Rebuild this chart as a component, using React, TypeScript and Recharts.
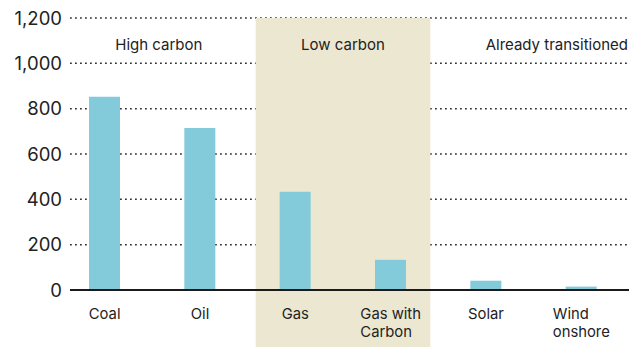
import React from 'react';
import {
  BarChart,
  Bar,
  XAxis,
  YAxis,
  CartesianGrid,
  ReferenceArea,
} from 'recharts';

// Emissions intensity by generation technology
const CATEGORIES = ['Coal', 'Oil', 'Gas', 'Gas with\nCarbon', 'Solar', 'Wind\nonshore'];
const VALUES = [853, 715, 434, 133, 41, 15];
const Y_TICKS = [0, 200, 400, 600, 800, 1000, 1200];

// Technology groups: label, first and last category covered
const GROUP_LABELS = ['High carbon', 'Low carbon', 'Already transitioned'];
const GROUP_FIRST = ['Coal', 'Gas', 'Solar'];
const GROUP_LAST = ['Oil', 'Gas with\nCarbon', 'Wind\nonshore'];

const data = CATEGORIES.map((name, i) => ({ name, value: VALUES[i] }));

const W = 629;
const H = 347;
const Y_AXIS_W = 70;
const FONT = 'Inter, "Noto Sans", sans-serif';
const BAR_COLOR = '#83CADB';
const BAND_COLOR = '#ECE7D1';
const TEXT_COLOR = '#222222';
const BAND_INSET = 8;

const fmt = (v: number) => v.toLocaleString('en-US');

function CategoryTick(props: any) {
  const { x, y, payload } = props;
  const lines = String(payload.value).split('\n');
  return (
    <foreignObject x={x - 60} y={y + 7} width={120} height={46}>
      <div
        style={{
          textAlign: 'center',
          fontFamily: FONT,
          fontSize: 14.8,
          lineHeight: '18px',
          color: TEXT_COLOR,
        }}
      >
        <span style={{ display: 'inline-block', textAlign: 'left' }}>
          {lines.map((l, i) => (
            <React.Fragment key={i}>
              {i > 0 && <br />}
              {l}
            </React.Fragment>
          ))}
        </span>
      </div>
    </foreignObject>
  );
}

function GroupLabel(props: any) {
  const { viewBox, value, align } = props;
  const left = Math.max(viewBox.x, Y_AXIS_W);
  const right = viewBox.x + viewBox.width;
  const x = align === 'end' ? right - 1 : (left + right) / 2;
  return (
    <text
      x={x}
      y={viewBox.y + 32}
      textAnchor={align === 'end' ? 'end' : 'middle'}
      fontFamily={FONT}
      fontSize={15}
      fill={TEXT_COLOR}
    >
      {value}
    </text>
  );
}

const BandShape = (p: any) => (
  <rect
    x={p.x + BAND_INSET}
    y={p.y}
    width={p.width - 2 * BAND_INSET}
    height={H - p.y}
    fill={BAND_COLOR}
  />
);

export default function App() {
  return (
    <div style={{ position: 'absolute', left: 0, top: 0, background: '#fff' }}>
      <BarChart
        width={W}
        height={H}
        data={data}
        margin={{ top: 18, right: 0, bottom: 0, left: 0 }}
        style={{ fontFamily: FONT }}
      >
        {GROUP_LABELS.map((g, i) => (
          <ReferenceArea
            key={g}
            x1={GROUP_FIRST[i]}
            x2={GROUP_LAST[i]}
            ifOverflow="visible"
            fill={i === 1 ? BAND_COLOR : 'none'}
            fillOpacity={i === 1 ? 1 : 0}
            shape={i === 1 ? BandShape : undefined}
            label={<GroupLabel value={g} align={i === 2 ? 'end' : 'middle'} />}
          />
        ))}
        <CartesianGrid
          vertical={false}
          stroke="#333"
          strokeWidth={1.5}
          strokeDasharray="1.8 3.2"
        />
        <XAxis
          dataKey="name"
          interval={0}
          height={57}
          padding={{ left: -13, right: 0 }}
          tickLine={false}
          axisLine={{ stroke: '#1a1a1a', strokeWidth: 2 }}
          tick={<CategoryTick />}
        />
        <YAxis
          width={Y_AXIS_W}
          domain={[0, 1200]}
          ticks={Y_TICKS}
          interval={0}
          tickLine={false}
          axisLine={false}
          tickFormatter={fmt}
          tick={{ fontSize: 18.5, fill: TEXT_COLOR, fontFamily: FONT }}
        />
        <Bar dataKey="value" fill={BAR_COLOR} barSize={31} isAnimationActive={false} />
      </BarChart>
    </div>
  );
}
